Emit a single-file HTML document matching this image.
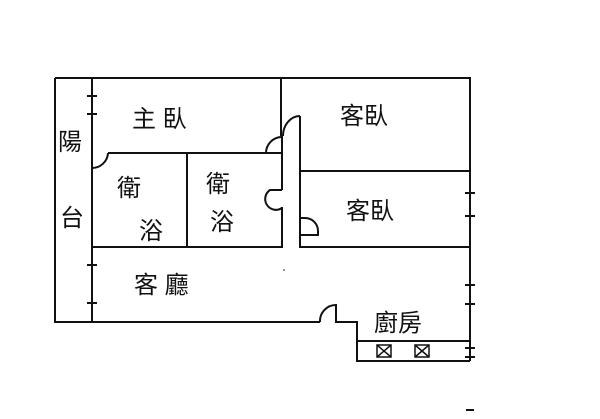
<!DOCTYPE html>
<html><head><meta charset="utf-8"><style>
html,body{margin:0;padding:0;background:#fff;}
svg{display:block}
text{font-family:"Liberation Sans","Noto Sans CJK TC",sans-serif;font-size:24px;fill:#111;}
</style></head><body>
<svg width="600" height="419" viewBox="0 0 600 419" xmlns="http://www.w3.org/2000/svg">
<g fill="none" stroke="#111" stroke-width="2">
<path d="M55 78 H470 V361"/>
<path d="M55 78 V322 H320"/>
<path d="M92 78 V322"/>
<path d="M281 78 V136"/>
<path d="M300 116 V247 H470"/>
<path d="M300 171 H470"/>
<path d="M300 116 A17 20 0 0 0 283 136"/>
<path d="M282 136 V153"/>
<path d="M282 137 A16 16 0 0 0 266 153"/>
<path d="M108 153 H282 V190"/>
<path d="M92 168 A16 16 0 0 0 108 153"/>
<path d="M187 153 V247"/>
<path d="M92 247 H282 V207"/>
<path d="M282 190 H270 A9 9 0 0 0 282 208"/>
<path d="M300 218 H305 A13 13 0 0 1 318 231 V235 H300"/>
<path d="M320 322 A16 16 0 0 1 336 305 V322 H357 V361 H470"/>
<path d="M357 341 H470"/>
<path d="M87 96 H97 M87 114 H97 M87 265 H97 M87 303 H97"/>
<path d="M465 193 H475 M465 216 H475 M465 285 H475 M465 304 H475 M465 348 H475 M465 357 H475 M466 410 H474"/>
</g>
<g fill="none" stroke="#111" stroke-width="1.5">
<rect x="377" y="345" width="14" height="12"/>
<path d="M377 345 L391 357 M391 345 L377 357"/>
<rect x="415" y="345" width="14" height="12"/>
<path d="M415 345 L429 357 M429 345 L415 357"/>
</g>
<circle cx="284" cy="270" r="1" fill="#777"/>
<text x="58" y="150">陽</text>
<text x="60" y="226">台</text>
<text x="132" y="127">主 臥</text>
<text x="340" y="124">客臥</text>
<text x="346" y="219">客臥</text>
<text x="117" y="196">衛</text>
<text x="139" y="239">浴</text>
<text x="206" y="192">衛</text>
<text x="210" y="230">浴</text>
<text x="134" y="293">客 廳</text>
<text x="374" y="331">廚房</text>
</svg>
</body></html>
